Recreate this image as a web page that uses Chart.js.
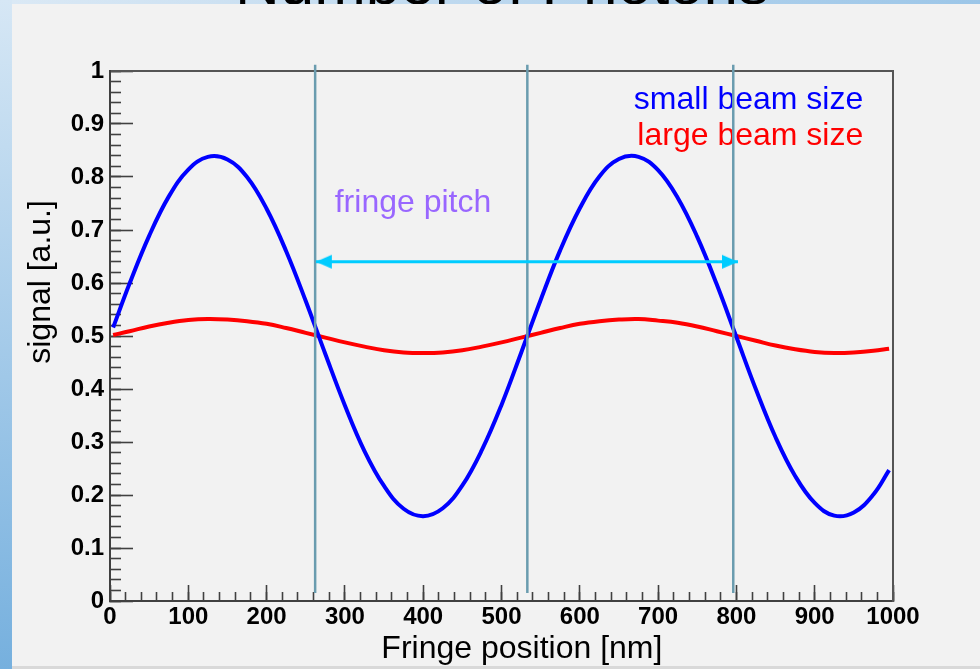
<!DOCTYPE html>
<html>
<head>
<meta charset="utf-8">
<script src="https://cdn.jsdelivr.net/npm/chart.js@4/dist/chart.umd.min.js"></script>
<style>
  html, body { margin:0; padding:0; }
  body { width:980px; height:669px; overflow:hidden; position:relative; background:#d9d9d9; }
  #topstrip { position:absolute; left:0; top:0; width:980px; height:4px; background:linear-gradient(to right,#dbe9f5,#9cc6e8); z-index:0; }
  #leftstrip { position:absolute; left:0; top:0; width:12px; height:669px; background:linear-gradient(to bottom,#d6e7f5,#76b0de); z-index:0; }
  #title { position:absolute; left:12px; top:-48px; width:980px; text-align:center; font:62px/62px "Liberation Sans", Arial, sans-serif; color:#000; white-space:nowrap; z-index:1; }
  #panel { position:absolute; left:12px; top:4px; width:968px; height:662px; background:#f2f2f2; z-index:2; }
  #c { position:absolute; left:0; top:0; z-index:3; }
</style>
</head>
<body>
<div id="topstrip"></div>
<div id="leftstrip"></div>
<div id="title">Number of Photons</div>
<div id="panel"></div>
<canvas id="c" width="980" height="669"></canvas>
<script>
// ---- data ----
const fringePositions = [4, 25, 50, 75, 100, 125, 150, 175, 200, 225, 250, 275, 300, 325, 350, 375, 400, 425, 450, 475, 500,
  525, 550, 575, 600, 625, 650, 675, 700, 725, 750, 775, 800, 825, 850, 875, 900, 925, 950, 975, 995];
const smallBeamSignal = [0.516, 0.599, 0.689, 0.763, 0.814, 0.838, 0.833, 0.800, 0.740, 0.660, 0.566, 0.466, 0.369, 0.283,
  0.217, 0.174, 0.160, 0.175, 0.218, 0.285, 0.370, 0.468, 0.568, 0.662, 0.741, 0.801, 0.834, 0.838, 0.813, 0.761, 0.687,
  0.597, 0.498, 0.399, 0.309, 0.236, 0.185, 0.161, 0.167, 0.201, 0.247];
const largeBeamSignal = [0.502, 0.509, 0.518, 0.525, 0.530, 0.532, 0.531, 0.528, 0.523, 0.515, 0.506, 0.497, 0.488, 0.480,
  0.473, 0.469, 0.468, 0.469, 0.473, 0.480, 0.488, 0.497, 0.506, 0.515, 0.523, 0.528, 0.531, 0.532, 0.529, 0.525, 0.518,
  0.509, 0.500, 0.491, 0.482, 0.475, 0.470, 0.468, 0.469, 0.472, 0.476];
const seriesNames = ['small beam size', 'large beam size'];
const pitchLinePositions = [262, 533, 796];
const pitchLineRange = [0.015, 1.012];
const pitchArrowEnds = [263, 802];
const pitchArrowLevel = 0.64;
const pitchLabel = 'fringe pitch';
const xTicksMajor = 100, xTicksMinor = 20;
const yTicksMajor = 0.1, yTicksMinor = 0.02;
const xTitle = 'Fringe position [nm]';
const yTitle = 'signal [a.u.]';

// ---- styling / placement ----
const FONT = '"Liberation Sans", Arial, sans-serif';
const LEGEND_RIGHT_X = 962;
const LEGEND_BASE_Y = [0.928, 0.860];
const PITCH_LABEL_X = 287, PITCH_LABEL_Y = 0.734;
const X_TITLE_X = 526, Y_TITLE_Y = 0.602;

function toPoints(xs, ys) { return xs.map((x, i) => ({x, y: ys[i]})); }
function plainNumber(v) { return String(+Number(v).toFixed(3)); }

// arrowhead image whose tip sits at the image center
const head = document.createElement('canvas');
head.width = 34; head.height = 16;
(function(){
  const g = head.getContext('2d');
  g.fillStyle = '#00ccff';
  g.beginPath(); g.moveTo(1, 1); g.lineTo(17, 8); g.lineTo(1, 15); g.closePath(); g.fill();
})();

const datasets = [];
datasets.push({
  label: seriesNames[0], showLabel: true, data: toPoints(fringePositions, smallBeamSignal),
  borderColor: '#0000ff', borderWidth: 4, tension: 0.4, pointRadius: 0, order: 2, borderCapStyle: 'butt'
});
datasets.push({
  label: seriesNames[1], showLabel: true, data: toPoints(fringePositions, largeBeamSignal),
  borderColor: '#ff0000', borderWidth: 4, tension: 0.4, pointRadius: 0, order: 3, borderCapStyle: 'butt'
});
pitchLinePositions.forEach((px, i) => {
  datasets.push({
    label: 'pitch line ' + (i + 1), data: pitchLineRange.map(v => ({x: px, y: v})),
    borderColor: '#6a9caf', borderWidth: 2.5, pointRadius: 0, clip: false, order: 1
  });
});
datasets.push({
  label: 'pitch arrow', data: pitchArrowEnds.map(v => ({x: v, y: pitchArrowLevel})),
  borderColor: '#00ccff', borderWidth: 3, pointStyle: head, pointRadius: 8,
  pointRotation: (c) => c.dataIndex === 0 ? 180 : 0, clip: false, order: 0
});

const textPlugin = {
  id: 'texts',
  beforeDatasetsDraw(chart) {
    const {ctx, chartArea} = chart;
    const xs = chart.scales.x, ys = chart.scales.y;
    ctx.save();
    ctx.font = '32px ' + FONT;
    ctx.textAlign = 'right';
    ctx.textBaseline = 'alphabetic';
    chart.data.datasets.filter(d => d.showLabel).forEach((d, i) => {
      ctx.fillStyle = d.borderColor;
      ctx.fillText(d.label, xs.getPixelForValue(LEGEND_RIGHT_X), ys.getPixelForValue(LEGEND_BASE_Y[i]));
    });
    ctx.textAlign = 'left';
    ctx.fillStyle = '#9966ff';
    ctx.fillText(pitchLabel, xs.getPixelForValue(PITCH_LABEL_X), ys.getPixelForValue(PITCH_LABEL_Y));
    ctx.fillStyle = '#000';
    ctx.font = '32px ' + FONT;
    ctx.textAlign = 'center';
    ctx.fillText(xTitle, xs.getPixelForValue(X_TITLE_X), chartArea.bottom + 57);
    ctx.translate(chartArea.left - 69, ys.getPixelForValue(Y_TITLE_Y));
    ctx.rotate(-Math.PI / 2);
    ctx.textBaseline = 'middle';
    ctx.fillText(yTitle, 0, 0);
    ctx.restore();
  }
};

const AXIS = '#404040';
const tickFont = {family: FONT, size: 24, weight: 'bold'};

new Chart(document.getElementById('c'), {
  type: 'line',
  data: {datasets},
  options: {
    responsive: false, animation: false, devicePixelRatio: 1, events: [],
    layout: {padding: {left: 0, top: 71, right: 87, bottom: 0}},
    plugins: {legend: {display: false}, tooltip: {enabled: false}, title: {display: false}},
    scales: {
      x: {
        type: 'linear', position: 'bottom', weight: 1, min: 0, max: 1000,
        ticks: {stepSize: xTicksMajor, color: '#000', font: tickFont, padding: 18, maxRotation: 0, autoSkip: false, callback: plainNumber},
        grid: {drawOnChartArea: false, drawTicks: true, tickLength: -16, tickColor: AXIS, tickWidth: 1.6},
        border: {display: true, color: AXIS, width: 2},
        afterFit(s) { s.height = 68; }
      },
      xMinor: {
        type: 'linear', position: 'bottom', weight: 0, min: 0, max: 1000,
        ticks: {stepSize: xTicksMinor, display: false, autoSkip: false},
        grid: {drawOnChartArea: false, drawTicks: true, tickLength: -9, tickColor: AXIS, tickWidth: 1.6},
        border: {display: false},
        afterFit(s) { s.height = 0; }
      },
      xTop: {
        type: 'linear', position: 'top', min: 0, max: 1000,
        ticks: {display: false}, grid: {display: false, drawTicks: false},
        border: {display: true, color: '#555', width: 2},
        afterFit(s) { s.height = 0; }
      },
      y: {
        type: 'linear', position: 'left', weight: 1, min: 0, max: 1,
        ticks: {stepSize: yTicksMajor, color: '#000', font: tickFont, padding: 29, autoSkip: false, callback: plainNumber},
        grid: {drawOnChartArea: false, drawTicks: true, tickLength: -23, tickColor: AXIS, tickWidth: 1.6},
        border: {display: true, color: AXIS, width: 2},
        afterFit(s) { s.width = 110; }
      },
      yMinor: {
        type: 'linear', position: 'left', weight: 0, min: 0, max: 1,
        ticks: {stepSize: yTicksMinor, display: false, autoSkip: false},
        grid: {drawOnChartArea: false, drawTicks: true, tickLength: -11, tickColor: AXIS, tickWidth: 1.6},
        border: {display: false},
        afterFit(s) { s.width = 0; }
      },
      yRight: {
        type: 'linear', position: 'right', min: 0, max: 1,
        ticks: {display: false}, grid: {display: false, drawTicks: false},
        border: {display: true, color: '#555', width: 2},
        afterFit(s) { s.width = 0; }
      }
    }
  },
  plugins: [textPlugin]
});
</script>
</body>
</html>
